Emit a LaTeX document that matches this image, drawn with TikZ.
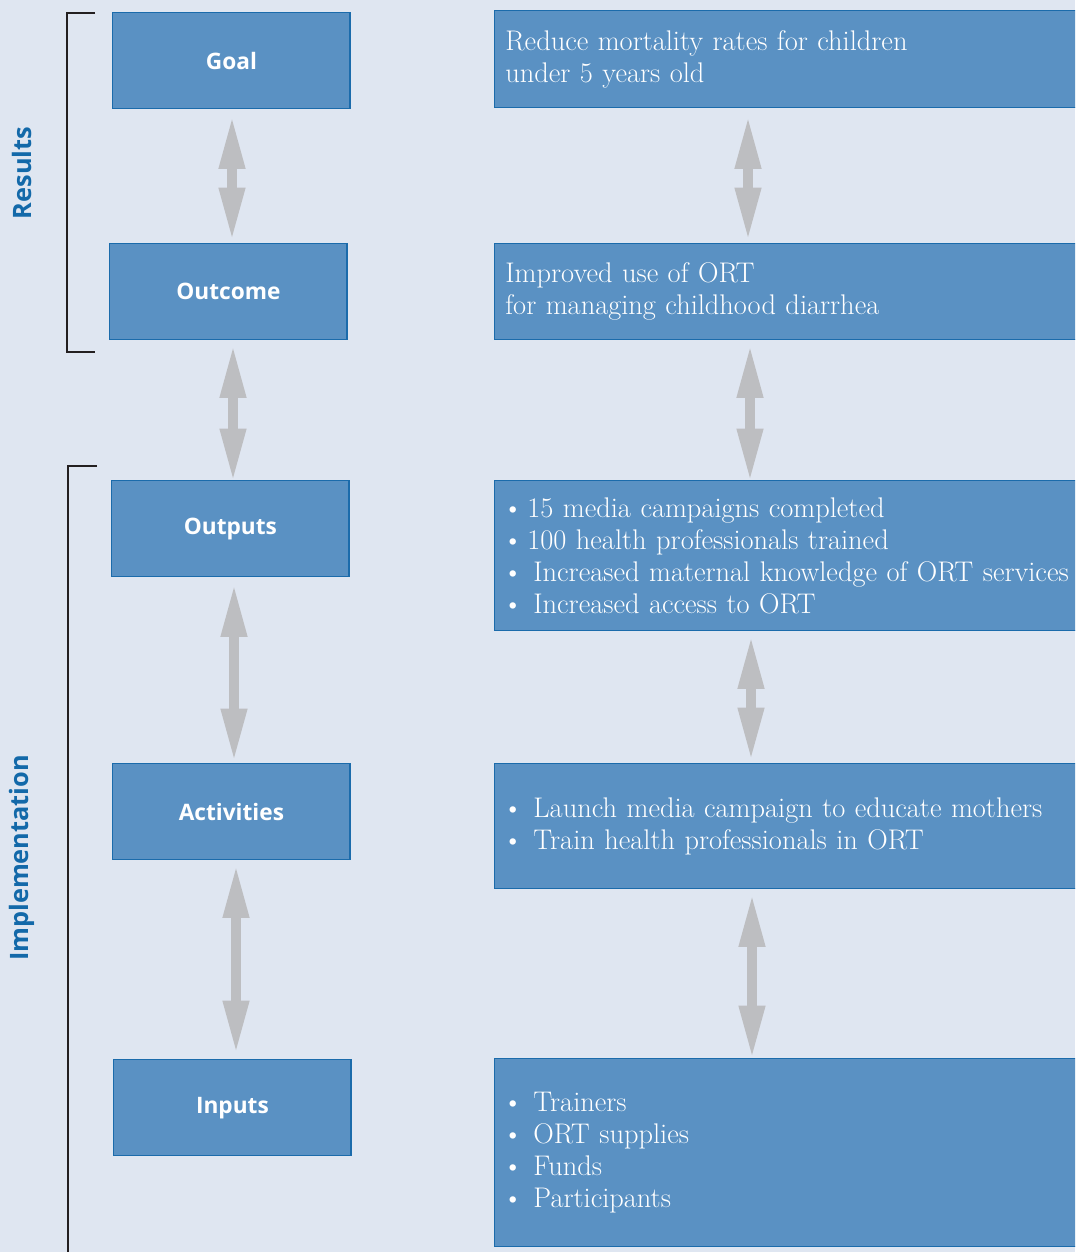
\documentclass[tikz,border=0pt]{standalone}
\usepackage{fontspec}
\newfontfamily\labfont{Open Sans}
\usetikzlibrary{arrows.meta}
\definecolor{bg}{HTML}{DFE6F1}
\definecolor{boxfill}{HTML}{5A91C3}
\definecolor{boxline}{HTML}{1B6BAB}
\definecolor{arrowgray}{HTML}{BDBEC1}
\definecolor{labblue}{HTML}{1369A9}
\definecolor{brack}{HTML}{231F20}
\newcommand{\bigbul}{\hspace{-2pt}\textbullet}
\newcommand{\bl}{\makebox[16.5pt][l]{\bigbul}}
\newcommand{\blw}{\makebox[21pt][l]{\bigbul}}
\begin{document}
\begin{tikzpicture}[x=0.75pt,y=-0.75pt,
  lbox/.style={draw=boxline, fill=boxfill, line width=1.1pt, minimum width=178pt,
    minimum height=72pt, anchor=north west, text=white,
    font=\labfont\bfseries\fontsize{17}{20}\selectfont},
  rbox/.style={draw=boxline, fill=boxfill, line width=1.1pt, minimum width=447pt,
    anchor=north west, text=white, inner xsep=8pt, text width=431pt, align=left,
    font=\fontsize{21.3}{24}\selectfont},
  twoway/.style={draw=arrowgray, line width=7.5pt,
    {Triangle[length=37pt,width=20.5pt,line width=0pt]}-{Triangle[length=37pt,width=20.5pt,line width=0pt]}},
  sidelab/.style={text=labblue, rotate=90, font=\labfont\bfseries\fontsize{19}{20}\selectfont},
  bracket/.style={draw=brack, line width=1.7pt}]
\useasboundingbox (0,0) rectangle (1075,1252);
\clip (0,0) rectangle (1075,1252);
\fill[bg] (0,0) rectangle (1075,1252);

% left boxes
\node[lbox] (goal) at (112,12) {Goal};
\node[lbox] (outcome) at (109,243) {Outcome};
\node[lbox] (outputs) at (111,480) {Outputs};
\node[lbox] (activities) at (112,763) {Activities};
\node[lbox] (inputs) at (113,1059) {Inputs};

% right boxes
\node[rbox, minimum height=72.75pt] (rgoal) at (494,10)
  {Reduce mortality rates for children\\under 5 years old};
\node[rbox, minimum height=72pt] (routcome) at (494,243)
  {Improved use of ORT\\for managing childhood diarrhea};
\node[rbox, minimum height=112.5pt] (routputs) at (494,480)
  {\bl 15 media campaigns completed\\
   \bl 100 health professionals trained\\
   \blw Increased maternal knowledge of ORT services\\
   \blw Increased access to ORT};
\node[rbox, minimum height=93.75pt] (ractivities) at (494,763)
  {\blw Launch media campaign to educate mothers\\
   \blw Train health professionals in ORT};
\node[rbox, minimum height=141pt] (rinputs) at (494,1058)
  {\blw Trainers\\ \blw ORT supplies\\ \blw Funds\\ \blw Participants};

% arrow axes
\coordinate (la1) at (232,0);
\coordinate (la2) at (233,0);
\coordinate (la3) at (234,0);
\coordinate (la4) at (236,0);
\coordinate (ra1) at (748,0);
\coordinate (ra2) at (750,0);
\coordinate (ra3) at (751,0);
\coordinate (ra4) at (752,0);

\draw[twoway, shorten <=7.5pt, shorten >=4.5pt] (goal.south -| la1) -- (outcome.north -| la1);
\draw[twoway, shorten <=6pt, shorten >=1.5pt] (outcome.south -| la2) -- (outputs.north -| la2);
\draw[twoway, shorten <=7.5pt, shorten >=3.75pt] (outputs.south -| la3) -- (activities.north -| la3);
\draw[twoway, shorten <=6pt, shorten >=6.75pt] (activities.south -| la4) -- (inputs.north -| la4);

\draw[twoway, shorten <=8.25pt, shorten >=4.5pt] (rgoal.south -| ra1) -- (routcome.north -| ra1);
\draw[twoway, shorten <=6pt, shorten >=1.5pt] (routcome.south -| ra2) -- (routputs.north -| ra2);
\draw[twoway, shorten <=6pt, shorten >=4.5pt] (routputs.south -| ra3) -- (ractivities.north -| ra3);
\draw[twoway, shorten <=6pt, shorten >=2.25pt] (ractivities.south -| ra4) -- (rinputs.north -| ra4);

% brackets
\coordinate (b1t) at (95,13);
\coordinate (b1b) at (95,352);
\draw[bracket] (b1t) -| (67,352) -- (b1b);
\coordinate (b2t) at (97,466);
\draw[bracket] (b2t) -| (68,1260);

% side labels
\node[sidelab] (results) at (22,173) {Results};
\node[sidelab] (impl) at (22,858) {Implementation};
\end{tikzpicture}
\end{document}
